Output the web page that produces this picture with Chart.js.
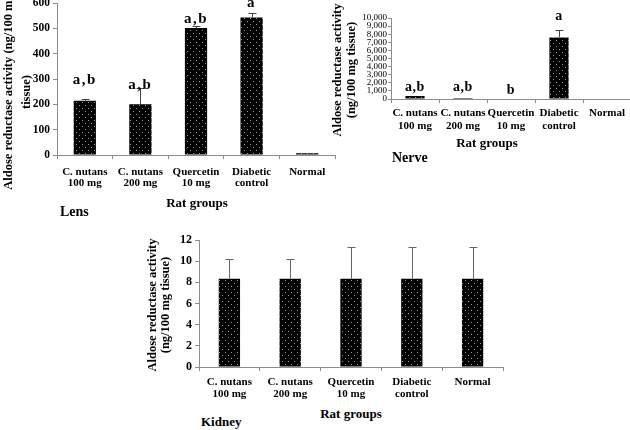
<!DOCTYPE html>
<html lang="en">
<head>
<meta charset="UTF-8">
<title>Aldose reductase activity</title>
<script src="https://cdn.jsdelivr.net/npm/chart.js"></script>
<style>
  html, body { margin: 0; padding: 0; background: #fff; overflow: hidden; }
  body { width: 630px; height: 430px; position: relative; font-family: "Liberation Serif", "Times New Roman", serif; font-weight: bold; color: #000; }
  canvas { position: absolute; }
  .txt { position: absolute; white-space: nowrap; line-height: 1; }
  .ytitle { position: absolute; transform: rotate(-90deg); text-align: center; white-space: nowrap; font-size: 12.5px; }
</style>
</head>
<body>
<canvas id="lens" width="345" height="232" style="left:0px;top:-10px"></canvas>
<canvas id="nerve" width="302" height="140" style="left:330px;top:0px"></canvas>
<canvas id="kidney" width="370" height="180" style="left:140px;top:225px"></canvas>

<div class="ytitle" style="left:-93px;top:74px;width:220px;height:36px;line-height:18px">Aldose reductase activity (ng/100 mg<br>tissue)</div>
<div class="txt" style="left:97px;top:196px;width:200px;text-align:center;font-size:13px">Rat groups</div>
<div class="txt" style="left:60px;top:205px;font-size:14px">Lens</div>

<div class="ytitle" style="left:269px;top:56px;width:150px;height:28px;line-height:14px">Aldose reductase activity<br>(ng/100 mg tissue)</div>
<div class="txt" style="left:387px;top:136px;width:200px;text-align:center;font-size:13px">Rat groups</div>
<div class="txt" style="left:392px;top:151px;font-size:14px">Nerve</div>

<div class="ytitle" style="left:89px;top:292px;width:140px;height:26px;line-height:13px">Aldose reductase activity<br>(ng/100 mg tissue)</div>
<div class="txt" style="left:251px;top:407px;width:200px;text-align:center;font-size:13px">Rat groups</div>
<div class="txt" style="left:201px;top:415px;font-size:13px">Kidney</div>

<script>
// groups on the x axis (same for all three panels)
const groups = [['C. nutans', '100 mg'], ['C. nutans', '200 mg'], ['Quercetin', '10 mg'], ['Diabetic', 'control'], ['Normal']];

// Lens
const lensValues = [214, 200, 501, 543, 7];
const lensErrors = [8, 66, 8, 19, 0];
const lensLetters = ['a,b', 'a,b', 'a,b', 'a', ''];
const lensLetterPos = [280, 260, 522, 585, 0];

// Nerve
const nerveValues = [370, 120, 0, 7600, 0];
const nerveErrors = [0, 0, 0, 950, 0];
const nerveLetters = ['a,b', 'a,b', 'b', 'a', ''];
const nerveLetterPos = [1000, 1000, 600, 9750, 0];

// Kidney
const kidneyValues = [8.35, 8.35, 8.35, 8.35, 8.35];
const kidneyErrors = [1.9, 1.9, 2.95, 2.95, 2.95];

const axisGrey = '#8c8c8c';
const serif = 'Liberation Serif';

// black fill with small light dots
function dotPattern() {
    const c = document.createElement('canvas');
    c.width = 6; c.height = 6;
    const g = c.getContext('2d');
    g.fillStyle = '#000';
    g.fillRect(0, 0, 6, 6);
    g.fillStyle = '#9a9a9a';
    g.fillRect(1, 1, 1, 1);
    g.fillRect(4, 4, 1, 1);
    return g.createPattern(c, 'repeat');
}
const dots = dotPattern();

// error bars (upper only) and significance letters
const extras = {
    id: 'extras',
    afterDatasetsDraw(chart, args, opts) {
        const ctx = chart.ctx;
        const x = chart.scales.x, y = chart.scales.y;
        const vals = chart.data.datasets[0].data;
        ctx.save();
        ctx.strokeStyle = opts.errColor;
        ctx.lineWidth = 1;
        (opts.errors || []).forEach((e, i) => {
            if (!e) return;
            const px = Math.round(x.getPixelForValue(i)) + 0.5;
            const y0 = y.getPixelForValue(vals[i]);
            const y1 = Math.round(y.getPixelForValue(vals[i] + e)) + 0.5;
            ctx.beginPath();
            ctx.moveTo(px, y0);
            ctx.lineTo(px, y1);
            ctx.moveTo(px - opts.cap, y1);
            ctx.lineTo(px + opts.cap, y1);
            ctx.stroke();
        });
        ctx.fillStyle = '#000';
        ctx.font = opts.letterFont;
        ctx.textAlign = 'center';
        ctx.textBaseline = 'alphabetic';
        ctx.letterSpacing = opts.spacing || '0px';
        (opts.letters || []).forEach((t, i) => {
            if (!t) return;
            ctx.fillText(t, x.getPixelForValue(i), y.getPixelForValue(opts.letterPos[i]));
        });
        ctx.restore();
    }
};

function buildChart(id, values, cfg) {
    return new Chart(document.getElementById(id), {
        type: 'bar',
        data: {
            labels: groups,
            datasets: [{
                data: values,
                backgroundColor: dots,
                borderWidth: 0,
                barPercentage: cfg.barPct,
                categoryPercentage: 1
            }]
        },
        options: {
            responsive: false,
            animation: false,
            devicePixelRatio: 1,
            locale: 'en-US',
            layout: { padding: cfg.pad },
            plugins: {
                legend: { display: false },
                tooltip: { enabled: false },
                extras: cfg.extras
            },
            scales: {
                x: {
                    grid: { display: true, drawOnChartArea: false, drawTicks: true, tickLength: 4, color: axisGrey, offset: true },
                    border: { color: axisGrey },
                    ticks: {
                        color: '#000',
                        font: { family: serif, size: 11, weight: 'bold', lineHeight: cfg.xLine },
                        padding: cfg.xPad,
                        maxRotation: 0,
                        autoSkip: false
                    },
                    afterFit(s) { s.height = cfg.xh; }
                },
                y: {
                    min: 0,
                    max: cfg.max,
                    grid: { drawOnChartArea: false, tickLength: cfg.yTick, color: axisGrey },
                    border: { color: axisGrey },
                    ticks: {
                        stepSize: cfg.step,
                        autoSkip: false,
                        color: '#000',
                        font: cfg.yFont,
                        padding: cfg.yPad,
                        callback: v => v.toLocaleString('en-US')
                    },
                    afterFit(s) { s.width = cfg.yw; }
                }
            }
        },
        plugins: [extras]
    });
}

buildChart('lens', lensValues, {
    barPct: 0.4, pad: { left: 0, top: 13, right: 10, bottom: 0 },
    xh: 67, xLine: 0.95, xPad: 8, yw: 57, max: 600, step: 100, yTick: 4, yPad: 3,
    yFont: { family: serif, size: 11.5, weight: 'bold' },
    extras: { errors: lensErrors, errColor: '#444', cap: 4, letters: lensLetters, letterPos: lensLetterPos,
              letterFont: 'bold 15px "Liberation Serif"', spacing: '1.5px' }
});

buildChart('nerve', nerveValues, {
    barPct: 0.4, pad: { left: 0, top: 18, right: 1, bottom: 0 },
    xh: 41, xLine: 1.15, xPad: 4, yw: 61, max: 10000, step: 1000, yTick: 3, yPad: 1,
    yFont: { family: serif, size: 9, lineHeight: 1 },
    extras: { errors: nerveErrors, errColor: '#444', cap: 4, letters: nerveLetters, letterPos: nerveLetterPos,
              letterFont: 'bold 14px "Liberation Serif"', spacing: '0.5px' }
});

buildChart('kidney', kidneyValues, {
    barPct: 0.35, pad: { left: 0, top: 15, right: 7, bottom: 0 },
    xh: 38, xLine: 1.1, xPad: 5, yw: 59, max: 12, step: 2, yTick: 4, yPad: 3,
    yFont: { family: serif, size: 12, weight: 'bold' },
    extras: { errors: kidneyErrors, errColor: '#666', cap: 4 }
});
</script>
</body>
</html>
